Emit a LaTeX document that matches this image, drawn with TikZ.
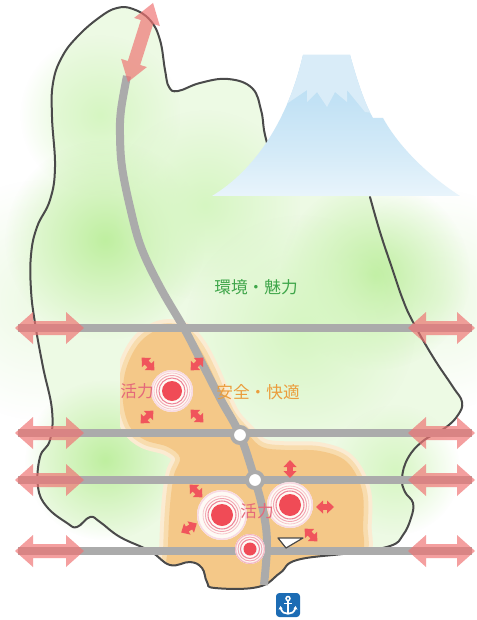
\documentclass[tikz,border=0pt]{standalone}
\usepackage{fontspec}
\newfontfamily\jpfont{Noto Sans CJK JP}
\usetikzlibrary{fadings}

\definecolor{roadgray}{HTML}{ABABAB}
\definecolor{rimline}{HTML}{4A4A4A}
\definecolor{arrowpink}{HTML}{EF7272}
\definecolor{sparkred}{HTML}{F0555C}
\definecolor{dotred}{HTML}{F04B56}
\definecolor{ringpink}{HTML}{EE8498}
\definecolor{halopink}{HTML}{F8DAE2}
\definecolor{orangecore}{HTML}{F4C888}
\definecolor{orangemid}{HTML}{F8DCAE}
\definecolor{orangeedge}{HTML}{FBEBD2}
\definecolor{greenpale}{HTML}{EDFAE4}
\definecolor{greenbright}{HTML}{BFEFA0}
\definecolor{greenmid}{HTML}{D6F6C2}
\definecolor{fujiblue}{HTML}{B2DAF2}
\definecolor{fujisnow}{HTML}{D9ECF8}
\definecolor{textgreen}{HTML}{3FA64A}
\definecolor{textorange}{HTML}{EB9D3C}
\definecolor{textpink}{HTML}{E5687A}
\definecolor{anchorblue}{HTML}{1C6CB4}

\tikzfading[name=softspot, inner color=transparent!0, outer color=transparent!100]

\pgfdeclareverticalshading{fujibody}{100bp}{color(0bp)=(white); color(8bp)=(white); color(40bp)=(fujiblue!55!white); color(75bp)=(fujiblue); color(100bp)=(fujiblue)}

% double-headed arrow: style, centre x, centre y, angle, length, head length, head half width, shaft half width
\newcommand{\twoway}[8]{%
  \begin{scope}[shift={(#2,#3)},rotate=#4]
    \fill[#1] ({-#5/2},0) -- ({-#5/2+#6},{#7}) -- ({-#5/2+#6},{#8}) -- ({#5/2-#6},{#8})
      -- ({#5/2-#6},{#7}) -- ({#5/2},0) -- ({#5/2-#6},{-#7}) -- ({#5/2-#6},{-#8})
      -- ({-#5/2+#6},{-#8}) -- ({-#5/2+#6},{-#7}) -- cycle;
  \end{scope}}

% white glow behind an activity centre: x, y, radius
\newcommand{\hubhalo}[3]{%
  \fill[white, fill opacity=0.92] (#1,#2) circle (#3);
  \draw[halopink, line width=1.2pt] (#1,#2) circle ({#3-0.8});}

% activity centre: name, x, y, dot radius
\newcommand{\hubcore}[4]{%
  \draw[ringpink, opacity=0.45, line width=0.6pt] (#2,#3) circle ({#4+8});
  \draw[ringpink, opacity=0.7, line width=0.7pt] (#2,#3) circle ({#4+5.5});
  \draw[ringpink, line width=0.8pt] (#2,#3) circle ({#4+3});
  \node[dotnode, minimum size={#4*1.5pt}] (#1) at (#2,#3) {};}

% coastline / boundary of the area
\def\rimpath{plot[smooth, tension=0.7] coordinates {
  (370,197) (380,232) (392,268) (403,300) (413,322) (433,357) (453,387) (462,402)
  (458,415) (445,428) (423,441) (408,458) (402,478) (405,492) (413,503) (411,518)
  (403,535) (390,546) (350,553) (297,560) (280,573) (258,587) (215,588) (207,582)
  (202,568) (190,562) (170,565) (150,551) (120,537) (100,522) (90,517) (77,527)
  (67,523) (47,507) (38,487) (40,457) (50,440) (52,410) (43,367) (35,323) (31,290)
  (31,255) (37,227) (50,200) (55,167) (52,117) (53,83) (62,57) (78,36) (100,17)
  (117,8) (133,9) (150,20) (160,40) (165,70) (169,87) (178,91) (200,83) (228,79)
  (252,88) (261,110) (264,130) (267,143)}}

% urban zone
\def\zonepath{plot[smooth cycle, tension=0.6] coordinates {
  (165,328) (184,331) (198,346) (210,368) (221,393) (232,416) (248,434) (262,447)
  (285,450) (320,451) (347,462) (362,490) (363,525) (358,560) (300,590) (250,605)
  (200,600) (168,580) (168,545) (170,505) (174,475) (180,458) (168,447) (145,440)
  (130,427) (123,402) (125,373) (135,349) (148,335)}}

\begin{document}
\begin{tikzpicture}[x=0.75pt,y=-0.75pt,
  road/.style={roadgray, line width=6pt},
  rim/.style={rimline, line width=1.5pt, line cap=round, line join=round},
  bigarrow/.style={fill=arrowpink, fill opacity=0.68},
  smallarrow/.style={fill=sparkred},
  junction/.style={circle, fill=white, draw=roadgray, line width=3pt, minimum size=12pt, inner sep=0pt},
  dotnode/.style={circle, fill=dotred, inner sep=0pt},
  label/.style={font=\jpfont\fontsize{12.5pt}{14pt}\selectfont, inner sep=0pt},
  portbox/.style={fill=anchorblue, rounded corners=2.5pt, minimum size=18pt, inner sep=0pt}]

\useasboundingbox (0,0) rectangle (476,620);
\fill[white] (0,0) rectangle (476,620);

% faint green haze around the land
\fill[greenpale, path fading=softspot] (40,300) circle (120);
\fill[greenpale, path fading=softspot] (440,300) circle (110);

% green land
\fill[greenpale] \rimpath -- cycle;
\fill[greenmid, path fading=softspot] (100,115) circle (80);
\fill[greenbright, path fading=softspot] (105,240) circle (100);
\fill[greenmid, path fading=softspot] (205,205) circle (95);
\fill[greenbright, path fading=softspot] (375,275) circle (95);
\fill[greenmid, path fading=softspot] (300,330) circle (115);
\fill[greenbright, path fading=softspot] (105,460) circle (80);
\fill[greenmid, path fading=softspot] (395,470) circle (65);

% urban zone, kept inside the coast
\begin{scope}
  \clip plot[smooth, tension=0.7] coordinates {(403,535) (390,546) (350,553) (297,560)
    (280,573) (258,587) (215,588) (207,582) (202,568) (190,562) (170,565) (150,551) (120,537)}
    -- (120,0) -- (476,0) -- (476,535) -- cycle;
  \draw[orangeedge, line width=13pt, line join=round] \zonepath;
  \draw[orangemid, line width=7pt, line join=round] \zonepath;
  \fill[orangecore] \zonepath;
\end{scope}

% boundary line
\draw[rim] \rimpath;

% mountain
\shade[shading=fujibody] (303,55) -- (350,55)
  .. controls (357,80) and (364,102) .. (373,118) -- (383,118)
  .. controls (395,140) and (420,170) .. (460,196) -- (212,196)
  .. controls (255,170) and (288,120) .. (303,55) -- cycle;
\begin{scope}
  \clip (303,55) -- (350,55)
    .. controls (357,80) and (364,102) .. (373,118) -- (383,118)
    .. controls (395,140) and (420,170) .. (460,196) -- (212,196)
    .. controls (255,170) and (288,120) .. (303,55) -- cycle;
  \fill[fujisnow] (270,40) -- (390,40) -- (390,115) -- (365,112) -- (347,90) -- (347,102)
    -- (335,92) -- (327,107) -- (317,92) -- (307,102) -- (307,90) -- (285,105) -- (270,110) -- cycle;
\end{scope}

% road ends
\coordinate (w1) at (18,328);  \coordinate (e1) at (472,328);
\coordinate (w2) at (18,433);  \coordinate (e2) at (472,433);
\coordinate (w3) at (18,480);  \coordinate (e3) at (472,480);
\coordinate (w4) at (18,551);  \coordinate (e4) at (472,551);

\draw[road] (w1) -- (e1);
\draw[road] (w2) -- (e2);
\draw[road] (w3) -- (e3);
\draw[road] (w4) -- (e4);
\draw[road] plot[smooth, tension=0.6] coordinates {(127,76) (121,110) (120,135) (122,167)
  (130,207) (141,247) (160,287) (185,330) (203,365) (221,400) (240,435) (255,480)
  (264,515) (267,545) (264,585)};

\node[junction] (j1) at (240,435) {};
\node[junction] (j2) at (255,480) {};

% wide-area links
\foreach \yy in {328,433,480,551} {
  \twoway{bigarrow}{49.5}{\yy}{0}{69}{18}{16}{7}
  \twoway{bigarrow}{441.5}{\yy}{0}{67}{18}{16}{7}
}
\twoway{bigarrow}{140.5}{42.5}{72.4}{83}{20}{13.5}{6.5}

% spreading activity
\twoway{smallarrow}{148}{364}{135}{18}{7}{6.5}{2.8}
\twoway{smallarrow}{197}{364}{45}{18}{7}{6.5}{2.8}
\twoway{smallarrow}{147}{417}{45}{18}{7}{6.5}{2.8}
\twoway{smallarrow}{197}{416}{135}{18}{7}{6.5}{2.8}
\twoway{smallarrow}{290}{469}{90}{18}{7}{6.5}{2.8}
\twoway{smallarrow}{325}{507}{0}{18}{7}{6.5}{2.8}
\twoway{smallarrow}{196}{491}{135}{18}{7}{6.5}{2.8}
\twoway{smallarrow}{189}{528}{30}{18}{7}{6.5}{2.8}
\twoway{smallarrow}{311}{535}{135}{18}{7}{6.5}{2.8}

% activity centres
\hubhalo{172}{391}{21}
\hubhalo{222}{515}{25}
\hubhalo{290}{505}{23}
\hubhalo{250}{549}{15}
\hubcore{c1}{172}{391}{10}
\hubcore{c2}{222}{515}{11}
\hubcore{c3}{290}{505}{11}
\hubcore{c4}{250}{549}{6.5}

% harbour mark
\draw[rimline, fill=white, line width=0.9pt, line join=round] (278,538) -- (303,538) -- (286,548) -- cycle;

% port icon
\node[portbox] (port) at (288,605) {};
\begin{scope}[shift={(288,605)}]
  \draw[white, line width=1.1pt] (0,-6.5) circle (2);
  \draw[white, line width=1.3pt] (0,-4.5) -- (0,8.5);
  \draw[white, line width=1.1pt] (-4,-1.5) -- (4,-1.5);
  \draw[white, line width=1.3pt] (-7.5,2.5) .. controls (-6.5,7.5) and (-3,8.8) .. (0,8.8)
    .. controls (3,8.8) and (6.5,7.5) .. (7.5,2.5);
  \fill[white] (-7.5,1) -- (-9.5,4.5) -- (-5.5,4) -- cycle;
  \fill[white] (7.5,1) -- (9.5,4.5) -- (5.5,4) -- cycle;
\end{scope}

% labels
\node[label, text=textgreen] (env) at (256,287) {環境・魅力};
\node[label, text=textorange] (safe) at (258,392) {安全・快適};
\node[label, text=textpink] (act1) at (137,391) {活力};
\node[label, text=textpink] (act2) at (257,511) {活力};

\end{tikzpicture}
\end{document}
